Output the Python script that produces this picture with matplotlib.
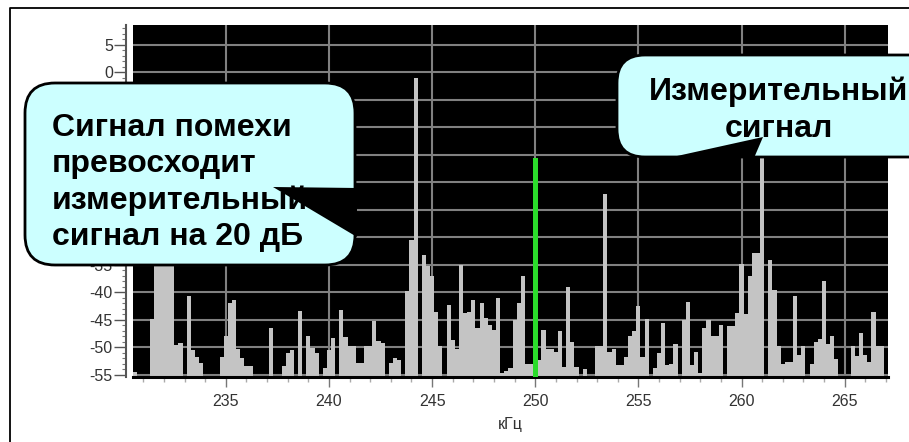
import numpy as np
import matplotlib
matplotlib.use("Agg")
import matplotlib.pyplot as plt
from matplotlib.patches import FancyBboxPatch, Polygon
from matplotlib.ticker import MultipleLocator

plt.rcParams["font.family"] = ["Liberation Sans", "DejaVu Sans"]
plt.rcParams["axes.unicode_minus"] = False

# Spectrum levels, one value per 0.2 kHz bin starting at 230.6 kHz (dB).
# -56 marks bins that stay below the displayed floor.
bin_start_khz = 230.6
bin_step_khz = 0.2
levels_db = [
    -54.5, -56, -56, -56, -44.8, -30, -28, -29, -31, -30,
    -49.5, -49.3, -56, -40.6, -50.5, -51.8, -52.8, -56, -56, -56,
    -56, -51.7, -48.0, -41.9, -41.4, -50.3, -51.9, -53.4, -53.4, -56,
    -56, -56, -56, -46.5, -56, -56, -53.4, -51.1, -50.5, -56,
    -43.4, -56, -48.0, -50.1, -51.1, -56, -53.7, -50.5, -48.3, -56,
    -43.2, -48.1, -49.8, -49.8, -52.8, -52.8, -49.8, -49.8, -45.3, -48.9,
    -49.3, -56, -52.9, -52.0, -52.3, -56, -39.8, -30.5, -1.0, -56,
    -33.3, -35.3, -37.1, -43.5, -49.8, -56, -42.3, -48.6, -50.3, -35.0,
    -43.8, -43.6, -41.4, -46.5, -42.0, -44.7, -45.9, -46.8, -41.1, -54.6,
    -54.3, -53.8, -45.0, -42.0, -37.0, -53.1, -53.1, -56, -52.3, -46.8,
    -50.3, -50.3, -50.8, -47.1, -53.5, -39.1, -49.1, -53.5, -56, -54.0,
    -56, -56, -49.7, -49.7, -22.2, -50.8, -50.3, -53.2, -53.2, -51.7,
    -48.0, -47.1, -42.5, -51.7, -44.9, -56, -53.8, -51.1, -45.5, -53.3,
    -53.0, -49.4, -56, -45.1, -41.8, -53.3, -50.8, -54.6, -46.4, -45.1,
    -47.9, -47.9, -46.0, -56, -46.2, -46.2, -43.8, -34.9, -44.0, -37.1,
    -32.8, -32.8, -14.0, -56, -34.1, -39.5, -49.8, -53.1, -52.6, -52.6,
    -40.6, -51.4, -49.8, -56, -53.1, -49.1, -48.5, -38.0, -49.4, -47.9,
    -52.2, -56, -56, -56, -49.7, -51.5, -47.4, -51.4, -52.6, -43.5,
    -49.8, -49.8, -56,
]

# Measurement signal line
signal_khz = 250.0
signal_db = -15.6

x_label = "кГц"
note_interference = "Сигнал помехи\nпревосходит\nизмерительный\nсигнал на 20 дБ"
note_signal = "Измерительный\nсигнал"

W, H, DPI = 909, 442, 100
fig = plt.figure(figsize=(W / DPI, H / DPI), dpi=DPI)
fig.patch.set_facecolor("white")

# plot area in pixels
L, R, T, B = 133, 888, 25, 377
ax = fig.add_axes([L / W, 1 - B / H, (R - L) / W, (B - T) / H])
ax.set_facecolor("black")

y_floor, y_top = -55.4, 8.6
freqs = bin_start_khz + bin_step_khz * np.arange(len(levels_db))
heights = np.clip(np.asarray(levels_db) - y_floor, 0, None)
ax.bar(freqs, heights, bottom=y_floor, width=bin_step_khz, color="#c4c4c4",
       linewidth=0, zorder=2)
ax.bar([signal_khz], [signal_db - y_floor], bottom=y_floor, width=0.24,
       color="#2bdc2b", linewidth=0, zorder=3)

ax.set_xlim(230.5, 267.1)
ax.set_ylim(y_floor, y_top)

ax.xaxis.set_major_locator(MultipleLocator(5))
ax.xaxis.set_minor_locator(MultipleLocator(1))
ax.yaxis.set_major_locator(MultipleLocator(5))
ax.yaxis.set_minor_locator(MultipleLocator(1))
ax.set_axisbelow(True)
ax.grid(True, which="major", color="#808080", linewidth=1.5)

for side in ("top", "right"):
    ax.spines[side].set_visible(False)
ax.spines["bottom"].set_color("black")
ax.spines["bottom"].set_linewidth(2.2)
ax.spines["left"].set_position(("outward", 5))
ax.spines["left"].set_color("#555555")
ax.spines["left"].set_linewidth(1.5)

ax.tick_params(axis="x", which="major", direction="out", length=7, width=1,
               color="#777777", labelsize=11.5, labelcolor="#333333", pad=5)
ax.tick_params(axis="x", which="minor", direction="out", length=3.5, width=1,
               color="#aaaaaa")
ax.tick_params(axis="y", which="major", direction="out", length=8.5, width=1,
               color="#555555", labelsize=11.5, labelcolor="#333333", pad=1)
ax.tick_params(axis="y", which="minor", direction="out", length=3, width=0.8,
               color="#777777")
ax.set_xlabel(x_label, fontsize=11.5, color="#333333", labelpad=6)

# overlay in pixel coordinates for the frame and callouts
ov = fig.add_axes([0, 0, 1, 1])
ov.set_xlim(0, W)
ov.set_ylim(H, 0)
ov.axis("off")
ov.set_zorder(10)

ov.plot([10, 10, W + 5], [H + 5, 8, 8], color="black", linewidth=1.3)

cyan = "#ccffff"
box1 = FancyBboxPatch((25, 83), 330, 182,
                      boxstyle="round,pad=0,rounding_size=30",
                      facecolor=cyan, edgecolor="black", linewidth=2)
ov.add_patch(box1)
ov.add_patch(Polygon([(273, 187), (357, 188), (357, 237)], closed=True,
                     facecolor="black", edgecolor="none"))
# baseline of the last line sits at the given y
ov.text(52, 245, note_interference, fontsize=23, fontweight="bold",
        ha="left", va="baseline", linespacing=1.27, color="black")

box2 = FancyBboxPatch((617, 55), 320, 102,
                      boxstyle="round,pad=0,rounding_size=28",
                      facecolor=cyan, edgecolor="black", linewidth=2)
ov.add_patch(box2)
ov.add_patch(Polygon([(668, 158), (763, 137), (754, 158)], closed=True,
                     facecolor="black", edgecolor="none"))
ov.text(779, 137, note_signal, fontsize=23, fontweight="bold",
        ha="center", va="baseline", multialignment="center",
        linespacing=1.3, color="black")

fig.savefig("out.png", dpi=DPI)
